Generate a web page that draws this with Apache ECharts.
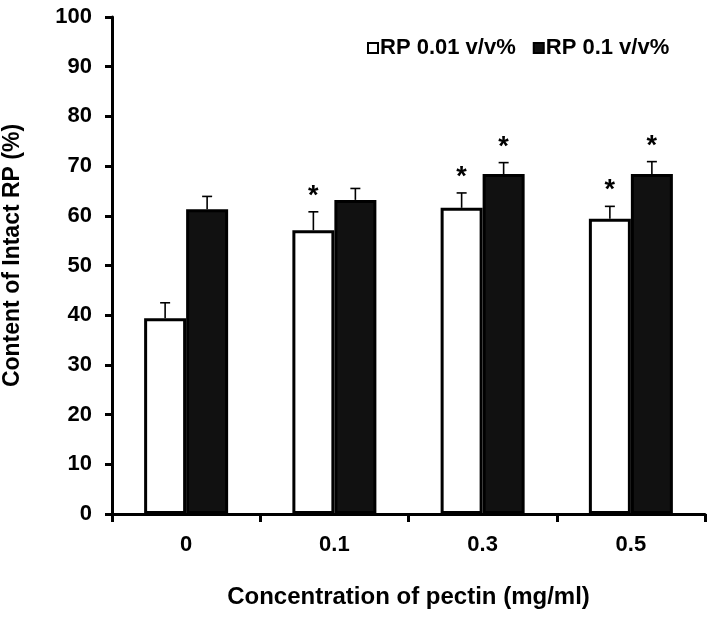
<!DOCTYPE html>
<html>
<head>
<meta charset="utf-8">
<script src="https://cdn.jsdelivr.net/npm/echarts@6/dist/echarts.min.js"></script>
<style>html,body{margin:0;padding:0;background:#fff;}#c{width:707px;height:621px;}</style>
</head>
<body>
<div id="c"></div>
<script>
const categories = ['0', '0.1', '0.3', '0.5'];
const seriesNames = ['RP 0.01 v/v%', 'RP 0.1 v/v%'];
const lowValues = [39.4, 57.1, 61.6, 59.4];
const lowErrors = [3.1, 3.7, 3.0, 2.5];
const lowSig = [false, true, true, true];
const highValues = [61.3, 63.2, 68.4, 68.4];
const highErrors = [2.6, 2.3, 2.3, 2.5];
const highSig = [false, false, true, true];
const yTicks = [0, 10, 20, 30, 40, 50, 60, 70, 80, 90, 100];

const FONT = '"Liberation Sans", Arial, sans-serif';
const BAR_W = 42;

function errData(vals, errs, sig) {
  return vals.map((v, i) => [i, v, errs[i], sig[i] ? 1 : 0]);
}

function makeRender(offset) {
  return function (params, api) {
    const idx = api.value(0), v = api.value(1), e = api.value(2), s = api.value(3);
    const x = api.coord([idx, 0])[0] + offset;
    const yTop = api.coord([idx, v])[1];
    const yErr = api.coord([idx, v + e])[1];
    const st = { stroke: '#000', lineWidth: 1.6 };
    const children = [
      { type: 'line', shape: { x1: x, y1: yTop, x2: x, y2: yErr }, style: st },
      { type: 'line', shape: { x1: x - 5, y1: yErr, x2: x + 5, y2: yErr }, style: st }
    ];
    if (s) {
      children.push({
        type: 'text',
        style: { text: '*', x: x, y: yErr - 2, fill: '#000', font: 'bold 27px ' + FONT, align: 'center', verticalAlign: 'bottom' }
      });
    }
    return { type: 'group', children: children };
  };
}

const chart = echarts.init(document.getElementById('c'), null, { renderer: 'canvas' });
chart.setOption({
  animation: false,
  backgroundColor: '#fff',
  grid: { left: 112, right: 2, top: 17, bottom: 107, outerBoundsMode: 'none' },
  legend: {
    left: 362, top: 32,
    icon: 'rect', itemWidth: 10, itemHeight: 10, itemGap: 17,
    textStyle: { fontFamily: FONT, fontWeight: 'bold', fontSize: 22, color: '#000', padding: [0, 0, 0, -3] },
    data: [
      { name: seriesNames[0], itemStyle: { color: '#fff', borderColor: '#000', borderWidth: 2 } },
      { name: seriesNames[1], itemStyle: { color: '#111', borderColor: '#000', borderWidth: 2 } }
    ]
  },
  xAxis: {
    type: 'category', data: categories, boundaryGap: true,
    axisLine: { lineStyle: { color: '#000', width: 3 } },
    axisTick: { show: true, length: 8, inside: false, lineStyle: { color: '#000', width: 3 } },
    axisLabel: { fontFamily: FONT, fontWeight: 'bold', fontSize: 22, color: '#000', margin: 20 },
    name: 'Concentration of pectin (mg/ml)', nameLocation: 'middle', nameGap: 71,
    nameTextStyle: { fontFamily: FONT, fontWeight: 'bold', fontSize: 24, color: '#000' }
  },
  yAxis: {
    type: 'value', min: 0, max: 100, interval: 10,
    axisLine: { show: true, lineStyle: { color: '#000', width: 3 } },
    axisTick: { show: true, length: 7, inside: false, lineStyle: { color: '#000', width: 3 } },
    splitLine: { show: false },
    axisLabel: { fontFamily: FONT, fontWeight: 'bold', fontSize: 22, color: '#000', margin: 20,
      customValues: yTicks },
    name: 'Content of Intact RP (%)', nameLocation: 'middle', nameGap: 88,
    nameTextStyle: { fontFamily: FONT, fontWeight: 'bold', fontSize: 23, color: '#000', padding: [0, 0, 0, 20] }
  },
  series: [
    { name: seriesNames[0], type: 'bar', data: lowValues, barWidth: BAR_W, barGap: '0%',
      itemStyle: { color: '#fff', borderColor: '#000', borderWidth: 3 }, z: 2 },
    { name: seriesNames[1], type: 'bar', data: highValues, barWidth: BAR_W, barGap: '0%',
      itemStyle: { color: '#111', borderColor: '#000', borderWidth: 3 }, z: 2 },
    { type: 'custom', data: errData(lowValues, lowErrors, lowSig), renderItem: makeRender(-BAR_W / 2), z: 3, silent: true },
    { type: 'custom', data: errData(highValues, highErrors, highSig), renderItem: makeRender(BAR_W / 2), z: 3, silent: true }
  ]
});
</script>
</body>
</html>
